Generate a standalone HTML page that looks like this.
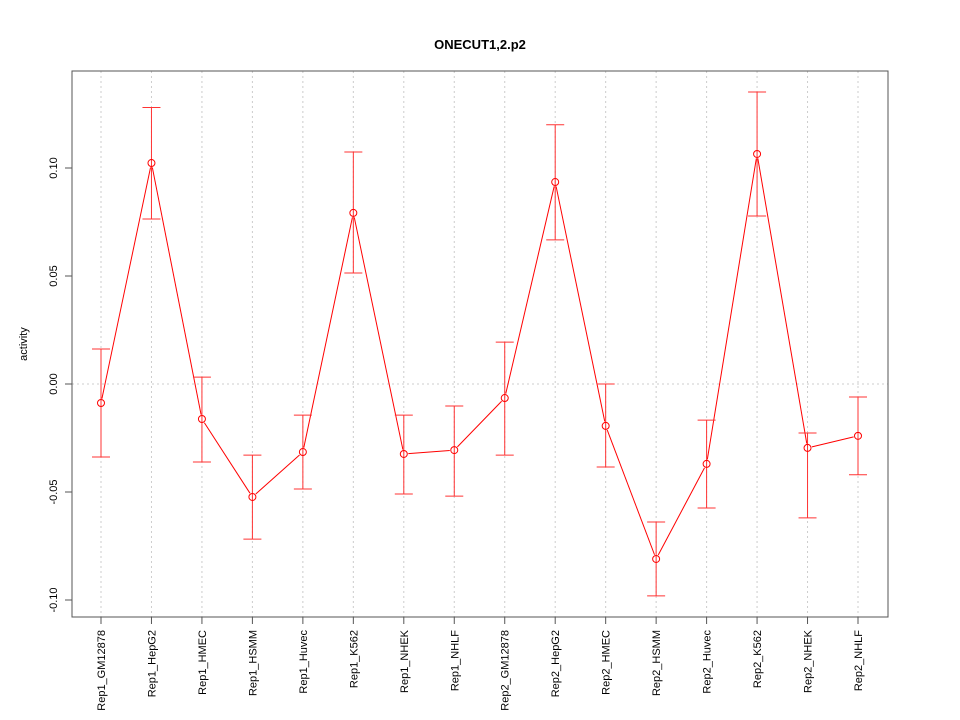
<!DOCTYPE html>
<html><head><meta charset="utf-8"><style>
body{margin:0;background:#fff}
svg{display:block;font-family:"Liberation Sans",sans-serif}
</style></head><body>
<svg id="chart" width="960" height="720" xmlns="http://www.w3.org/2000/svg">
<rect width="960" height="720" fill="#fff"/>
<text x="480" y="49" text-anchor="middle" font-size="13" font-weight="bold">ONECUT1,2.p2</text>
<text transform="translate(27,344) rotate(-90)" text-anchor="middle" font-size="11">activity</text>
<g id="grid"></g><g id="yaxis"></g><g id="xaxis"></g><g id="series"></g>
<rect x="72" y="71" width="816" height="546" fill="none" stroke="#555" stroke-width="1"/>
</svg>
<script>
const categories=["Rep1_GM12878","Rep1_HepG2","Rep1_HMEC","Rep1_HSMM","Rep1_Huvec","Rep1_K562","Rep1_NHEK","Rep1_NHLF","Rep2_GM12878","Rep2_HepG2","Rep2_HMEC","Rep2_HSMM","Rep2_Huvec","Rep2_K562","Rep2_NHEK","Rep2_NHLF"];
const values=[-0.0088,0.1023,-0.0162,-0.0523,-0.0315,0.0792,-0.0324,-0.0306,-0.0065,0.0935,-0.0194,-0.081,-0.037,0.1065,-0.0296,-0.024];
const upper=[0.0162,0.128,0.0032,-0.0329,-0.0144,0.1074,-0.0144,-0.0102,0.0194,0.12,0,-0.0639,-0.0167,0.1352,-0.0227,-0.006];
const lower=[-0.0338,0.0764,-0.0361,-0.0718,-0.0486,0.0514,-0.0509,-0.0519,-0.0329,0.0667,-0.0384,-0.0981,-0.0574,0.0778,-0.062,-0.042];
const yTicks=[-0.10,-0.05,0.00,0.05,0.10];
const yTickLabels=["-0.10","-0.05","0.00","0.05","0.10"];
const NS="http://www.w3.org/2000/svg";
const yS=v=>384-v*2160;
const xS=i=>101+i*(858-101)/(categories.length-1);
function mk(parent,tag,attrs){const e=document.createElementNS(NS,tag);for(const k in attrs)e.setAttribute(k,attrs[k]);document.getElementById(parent).appendChild(e);return e;}
categories.forEach((c,i)=>{
  const g=mk('grid','line',{x1:xS(i),x2:xS(i),y1:71,y2:617,stroke:'#ccc','stroke-dasharray':'2,3'});
  
  
  const t=mk('xaxis','line',{x1:xS(i),x2:xS(i),y1:617,y2:624,stroke:'#555'});
  
  
  const l=mk('xaxis','text',{transform:`translate(${xS(i)+4},630) rotate(-90)`,'text-anchor':'end','font-size':'11'});
  l.textContent=c;
  
  
});
const h=mk('grid','line',{x1:72,x2:888,y1:yS(0),y2:yS(0),stroke:'#ccc','stroke-dasharray':'2,3'});


yTicks.forEach((v,i)=>{
  const t=mk('yaxis','line',{x1:65,x2:72,y1:yS(v),y2:yS(v),stroke:'#555'});
  
  
  const l=mk('yaxis','text',{transform:`translate(57,${yS(v)}) rotate(-90)`,'text-anchor':'middle','font-size':'11'});
  l.textContent=yTickLabels[i];
  
  
});
for(let i=0;i<values.length-1;i++){
  const x1=xS(i),y1=yS(values[i]),x2=xS(i+1),y2=yS(values[i+1]);
  const dx=x2-x1,dy=y2-y1,d=Math.hypot(dx,dy),r=4.5;
  const s=mk('series','line',{x1:x1+dx/d*r,y1:y1+dy/d*r,x2:x2-dx/d*r,y2:y2-dy/d*r,stroke:'#f00'});
  
  
}
values.forEach((v,i)=>{
  const x=xS(i);
  const e=mk('series','path',{d:`M${x},${yS(upper[i])}V${yS(lower[i])}M${x-9},${yS(upper[i])}H${x+9}M${x-9},${yS(lower[i])}H${x+9}`,stroke:'#f33',fill:'none'});
  
  
  const p=mk('series','circle',{cx:x,cy:yS(v),r:3.5,fill:'none',stroke:'#f00'});
  
  
});
</script>
</body></html>
